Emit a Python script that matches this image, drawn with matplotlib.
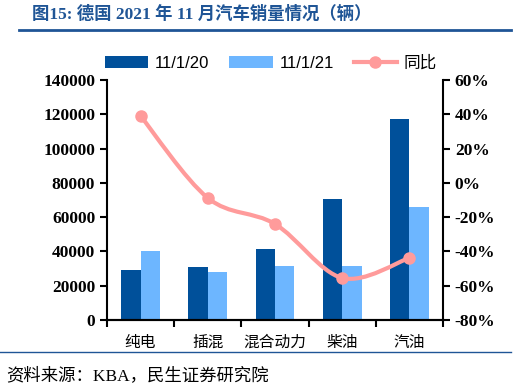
import matplotlib
matplotlib.use("Agg")
import matplotlib.pyplot as plt
import numpy as np
from matplotlib.path import Path
from matplotlib.patches import PathPatch
from matplotlib.ticker import FuncFormatter

plt.rcParams['font.family'] = ['Noto Sans CJK SC', 'DejaVu Sans']

# Data
categories = ['纯电', '插混', '混合动力', '柴油', '汽油']
sales_2020 = [29200, 30900, 41400, 70600, 117300]
sales_2021 = [40200, 28000, 31500, 31500, 65900]
yoy = [39, -8.8, -24, -55.5, -43.8]

dark_blue = '#00509A'
light_blue = '#6DB6FF'
pink = '#FF9B9B'
title_blue = '#1F5596'
serif_mix = ['Liberation Serif', 'Noto Sans CJK SC']

fig = plt.figure(figsize=(5.26, 3.88), dpi=100)
ax = fig.add_axes([0.2034, 0.1753, 0.6388, 0.6186])
ax2 = ax.twinx()

x = np.arange(len(categories))
w = 0.29
ax.bar(x - w / 2, sales_2020, w, color=dark_blue, label='11/1/20', zorder=2)
ax.bar(x + w / 2, sales_2021, w, color=light_blue, label='11/1/21', zorder=2)

# smoothed line (Catmull-Rom as Bezier curves, like Excel's smooth line)
pts = np.column_stack([x, yoy]).astype(float)
verts = [tuple(pts[0])]
codes = [Path.MOVETO]
for i in range(len(pts) - 1):
    p0 = pts[i - 1] if i > 0 else pts[i]
    p1, p2 = pts[i], pts[i + 1]
    p3 = pts[i + 2] if i + 2 < len(pts) else pts[i + 1]
    c1 = p1 + (p2 - p0) / 6
    c2 = p2 - (p3 - p1) / 6
    verts += [tuple(c1), tuple(c2), tuple(p2)]
    codes += [Path.CURVE4] * 3
ax2.add_patch(PathPatch(Path(verts, codes), facecolor='none', edgecolor=pink,
                        lw=3, zorder=3))
ax2.plot(x, yoy, 'o', color=pink, ms=8, zorder=4)
ax2.plot([], [], '-o', color=pink, lw=3, ms=8, label='同比')

ax.set_xlim(-0.5, len(categories) - 0.5)
ax.set_ylim(0, 140000)
ax.set_yticks(range(0, 140001, 20000))
ax2.set_ylim(-80, 60)
ax2.set_yticks(range(-80, 61, 20))
ax2.yaxis.set_major_formatter(FuncFormatter(lambda v, p: f'{int(v)}%'))

ax.set_xticks(x)
ax.set_xticklabels(categories, fontsize=11.3)
ax.set_xticks(np.arange(-0.5, len(categories), 1), minor=True)
ax.tick_params(axis='x', which='major', length=0, pad=10)
ax.tick_params(axis='x', which='minor', length=5, width=1.5, direction='out')
ax.tick_params(axis='y', length=5, width=1.5, direction='out')
ax2.tick_params(axis='y', length=5, width=1.5, direction='out')

for lab in ax.get_yticklabels() + ax2.get_yticklabels():
    lab.set_fontfamily('Liberation Serif')
    lab.set_fontweight('bold')
    lab.set_fontsize(12.5)

for a in (ax, ax2):
    a.spines['top'].set_visible(False)
    for s in ('left', 'right', 'bottom'):
        a.spines[s].set_linewidth(1.5)
ax.spines['right'].set_visible(False)
ax2.spines['left'].set_visible(False)

h1, l1 = ax.get_legend_handles_labels()
h2, l2 = ax2.get_legend_handles_labels()
fig.legend(h1 + h2, l1 + l2, loc='center', bbox_to_anchor=(0.515, 0.838), ncol=3,
           frameon=False, fontsize=11.5, handlelength=2.6, columnspacing=1.2,
           handletextpad=0.4, prop={'family': ['Liberation Sans', 'Noto Sans CJK SC'],
                                    'size': 12})

# title and frame lines
fig.text(0.061, 0.963, '图15: 德国 2021 年 11 月汽车销量情况（辆）', fontsize=12.5,
         fontweight='bold', color=title_blue, va='center', ha='left',
         family=serif_mix)
fig.add_artist(plt.Line2D([0.036, 0.972], [0.923, 0.923], color=title_blue, lw=2))
fig.add_artist(plt.Line2D([0.0, 0.972], [0.093, 0.093], color=title_blue, lw=1))
fig.text(0.012, 0.033, '资料来源：KBA，民生证券研究院', fontsize=12.5, va='center',
         ha='left', family=serif_mix)

plt.savefig('out.png', dpi=100)
